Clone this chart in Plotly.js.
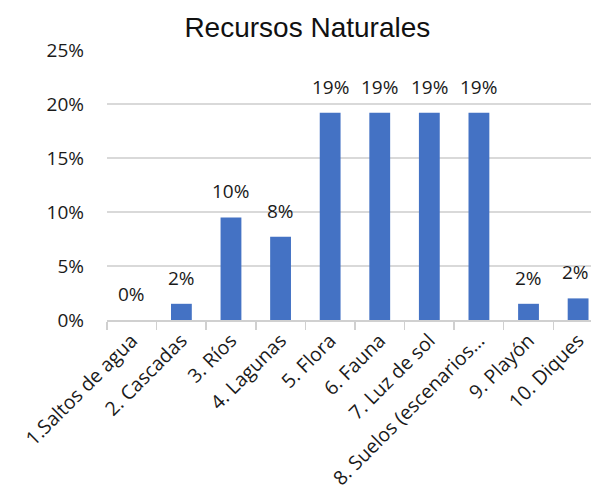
<!DOCTYPE html>
<html><head><meta charset="utf-8">
<script src="https://cdn.plot.ly/plotly-3.0.1.min.js"></script>
<style>html,body{margin:0;padding:0;background:#fff}</style>
</head><body>
<div id="chart" style="width:591px;height:494px"></div>
<script>
const categories = ["1.Saltos de agua","2. Cascadas","3. Ríos","4. Lagunas","5. Flora","6. Fauna","7. Luz de sol","8. Suelos (escenarios…","9. Playón","10. Diques"];
const values = [0.0, 0.015, 0.095, 0.077, 0.192, 0.192, 0.192, 0.192, 0.015, 0.02];
const valueLabels = ["0%","2%","10%","8%","19%","19%","19%","19%","2%","2%"];
const yTicks = [0, 0.05, 0.10, 0.15, 0.20, 0.25];
const yTickLabels = ["0%","5%","10%","15%","20%","25%"];

const FONT = "'Open Sans', Lato, sans-serif";
const lblFont = {family: FONT, size: 19, color: "#1a1a1a"};

const annotations = categories.map((c, i) => ({
  x: c, y: values[i], xref: "x", yref: "y",
  text: valueLabels[i], showarrow: false,
  yanchor: "bottom", yshift: 11,
  xshift: i === categories.length - 1 ? -3 : 0,
  font: lblFont
}));

Plotly.newPlot("chart", [{
  type: "bar",
  x: categories,
  y: values,
  marker: {color: "#4472C4"},
  hoverinfo: "none"
}], {
  width: 591, height: 494,
  margin: {l: 107, r: 0, t: 50, b: 174},
  paper_bgcolor: "#fff", plot_bgcolor: "#fff",
  bargap: 0.58,
  showlegend: false,
  annotations: annotations,
  title: {text: "Recursos Naturales", x: 0.52, xanchor: "center", y: 0.945, yanchor: "middle",
          font: {family: "'Liberation Sans', Arial, sans-serif", size: 28, color: "#111"}},
  xaxis: {
    type: "category",
    range: [-0.5, 9.26],
    tickangle: -45,
    ticks: "outside", tickson: "boundaries", ticklen: 8, tickcolor: "#d0d0d0", tickwidth: 1.5,
    showline: true, linecolor: "#d0d0d0", linewidth: 1.5,
    showgrid: false,
    tickfont: {family: FONT, size: 19.5, color: "#1a1a1a"}
  },
  yaxis: {
    range: [0, 0.25],
    tickvals: yTicks, ticktext: yTickLabels,
    showgrid: true, gridcolor: "#d9d9d9", gridwidth: 1.5,
    zeroline: false, showline: false,
    ticks: "", ticklabelstandoff: 22,
    tickfont: {family: FONT, size: 19, color: "#1a1a1a"}
  }
}, {staticPlot: true});
</script>
</body></html>
